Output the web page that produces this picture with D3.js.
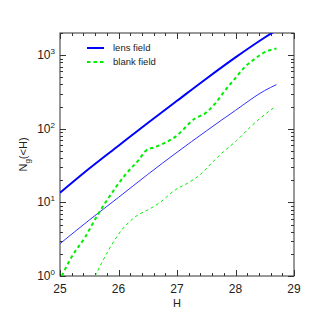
<!DOCTYPE html>
<html><head><meta charset="utf-8">
<script src="https://cdn.jsdelivr.net/npm/d3@7"></script>
<style>body{margin:0;background:#fff}svg{display:block}text{font-family:"Liberation Sans",Arial,sans-serif;fill:#222}</style>
</head><body><svg id="c" width="315" height="315"></svg>
<script>
// Data (cumulative counts N_g(<H))
const lensH      = [25.0, 25.5, 26.0, 26.5, 27.0, 27.5, 28.0, 28.5, 28.7];
const lensTotal  = [13.5, 28.8, 58.9, 120, 240, 479, 933, 1738, 2188];
const lensThin   = [2.75, 5.75, 11.7, 24, 47.9, 93.3, 178, 331, 398];
const blankH     = [25.03, 25.2, 25.43, 25.64, 25.88, 26.11, 26.34, 26.48, 26.62, 26.97, 27.31, 27.48, 27.65, 27.82, 27.99, 28.16, 28.33, 28.5, 28.7];
const blankTotal = [1.0, 1.82, 3.39, 6.68, 13.2, 23.4, 37.2, 51.3, 56.2, 77.6, 138, 162, 219, 331, 479, 692, 891, 1096, 1230];
const blankThinH = [25.6, 25.83, 26.05, 26.28, 26.54, 26.71, 26.97, 27.2, 27.4, 27.6, 27.79, 28.02, 28.25, 28.45, 28.68];
const blankThin  = [1.0, 2.24, 4.17, 6.31, 8.22, 10.0, 14.8, 18.6, 24.0, 34.7, 48.4, 69.2, 105, 145, 200];
const xTicks = [25, 26, 27, 28, 29];
const yTicks = [1, 10, 100, 1000];
const legendLabels = ["lens field", "blank field"];

const svg = d3.select("#c");
const L = 60, R = 294, T = 33, B = 276;
const x = d3.scaleLinear().domain([25, 29]).range([L, R]);
const y = d3.scaleLog().domain([1, 2000]).range([B, T]);

svg.append("defs").append("clipPath").attr("id","clip")
  .append("rect").attr("x",L).attr("y",T).attr("width",R-L).attr("height",B-T);

const axisCol = "#333";
svg.append("rect").attr("x",L).attr("y",T).attr("width",R-L).attr("height",B-T)
  .attr("fill","none").attr("stroke",axisCol).attr("stroke-width",1);

// x ticks
const xMinor = d3.range(25, 29.001, 0.2);
xMinor.forEach(v=>{
  const major = Math.abs(v-Math.round(v))<1e-6;
  const len = major?6:3;
  const px = Math.round(x(v))+0.5;
  svg.append("line").attr("x1",px).attr("x2",px).attr("y1",B).attr("y2",B-len).attr("stroke",axisCol);
  svg.append("line").attr("x1",px).attr("x2",px).attr("y1",T).attr("y2",T+len).attr("stroke",axisCol);
});
xTicks.forEach(v=>{
  svg.append("text").attr("x",x(v)).attr("y",293).attr("text-anchor","middle")
    .attr("font-size",12).text(v);
});
svg.append("text").attr("x",(L+R)/2).attr("y",307).attr("text-anchor","middle").attr("font-size",11).text("H");

// y ticks
const yMinor = [];
for (let d=1; d<=1000; d*=10) for (let k=1;k<=9;k++){ if(d*k<=2000) yMinor.push(d*k); }
yMinor.forEach(v=>{
  const major = yTicks.includes(v);
  const len = major?6:3;
  const py = Math.round(y(v))+0.5;
  svg.append("line").attr("x1",L).attr("x2",L+len).attr("y1",py).attr("y2",py).attr("stroke",axisCol);
  svg.append("line").attr("x1",R).attr("x2",R-len).attr("y1",py).attr("y2",py).attr("stroke",axisCol);
});
yTicks.forEach(v=>{
  const t = svg.append("text").attr("x",55).attr("y",y(v)+4).attr("text-anchor","end").attr("font-size",12);
  t.append("tspan").text("10");
  t.append("tspan").attr("dy",-5).attr("font-size",8).text(Math.round(Math.log10(v)));
});
const yt = svg.append("text").attr("transform","translate(27,"+((T+B)/2)+") rotate(-90)")
  .attr("text-anchor","middle").attr("font-size",11);
yt.append("tspan").text("N");
yt.append("tspan").attr("dy",3).attr("font-size",8).text("g");
yt.append("tspan").attr("dy",-3).text("(<H)");

// lines
const g = svg.append("g").attr("clip-path","url(#clip)");
const line = d3.line().x(d=>x(d[0])).y(d=>y(d[1])).curve(d3.curveMonotoneX);
function draw(hs, vs, color, w, dash){
  g.append("path").attr("d", line(hs.map((h,i)=>[h,vs[i]])))
    .attr("fill","none").attr("stroke",color).attr("stroke-width",w)
    .attr("stroke-dasharray",dash||null);
}
draw(lensH, lensTotal, "#0000ff", 2);
draw(lensH, lensThin, "#3030ff", 1);
draw(blankH, blankTotal, "#00ee00", 2, "3.5,3");
draw(blankThinH, blankThin, "#00ee00", 1, "3,3");

// legend
const leg = [[legendLabels[0],"#0000ff",null],[legendLabels[1],"#00ee00","3.5,3"]];
leg.forEach((d,i)=>{
  const ly = 48 + i*14;
  svg.append("line").attr("x1",87).attr("x2",104).attr("y1",ly).attr("y2",ly)
    .attr("stroke",d[1]).attr("stroke-width",2).attr("stroke-dasharray",d[2]);
  svg.append("text").attr("x",113).attr("y",ly+3).attr("font-size",9.5).text(d[0]);
});
</script></body></html>
